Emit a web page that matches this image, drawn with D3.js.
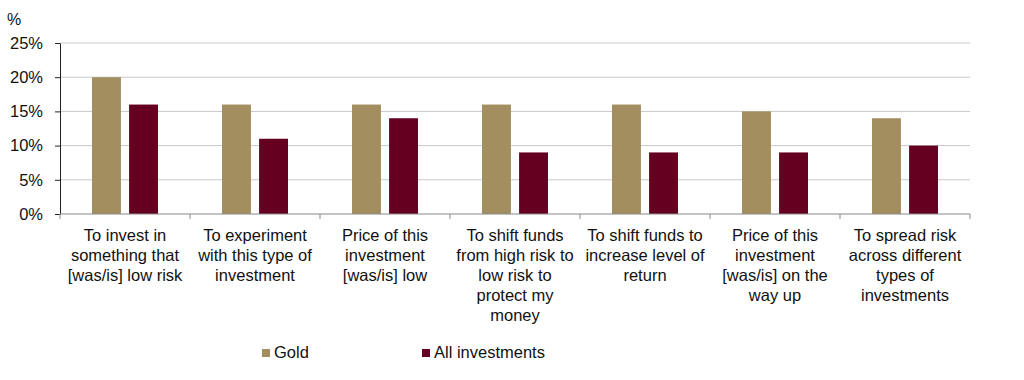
<!DOCTYPE html>
<html>
<head>
<meta charset="utf-8">
<script src="https://d3js.org/d3.v7.min.js"></script>
<style>
  body { margin: 0; background: #fff; }
  text { font-family: "Liberation Sans", Arial, sans-serif; fill: #111; }
</style>
</head>
<body>
<div id="chart"></div>
<script>
// categories (wrapped lines as in the reference)
const categories = [
  ["To invest in", "something that", "[was/is] low risk"],
  ["To experiment", "with this type of", "investment"],
  ["Price of this", "investment", "[was/is] low"],
  ["To shift funds", "from high risk to", "low risk to", "protect my", "money"],
  ["To shift funds to", "increase level of", "return"],
  ["Price of this", "investment", "[was/is] on the", "way up"],
  ["To spread risk", "across different", "types of", "investments"]
];
const seriesNames = ["Gold", "All investments"];
const gold = [20, 16, 16, 16, 16, 15, 14];
const allInvestments = [16, 11, 14, 9, 9, 9, 10];
const yTicks = [0, 5, 10, 15, 20, 25];
const colors = ["#A28E5E", "#660020"];

const width = 1024, height = 380;
const margin = { left: 60, right: 54, top: 43, bottom: 166 };
const plotW = width - margin.left - margin.right;
const plotH = height - margin.top - margin.bottom;

const svg = d3.select('#chart').append('svg')
  .attr('width', width)
  .attr('height', height);

const idx = d3.range(categories.length);
const x = d3.scaleBand().domain(idx).range([0, plotW]).paddingInner(0).paddingOuter(0);
const x1 = d3.scaleBand().domain([0, 1]).range([32, x.bandwidth() - 32]).paddingInner(0.22);
const y = d3.scaleLinear().domain([0, 25]).range([plotH, 0]);

const g = svg.append('g').attr('transform', `translate(${margin.left},${margin.top})`);

// gridlines
g.selectAll('.grid').data(yTicks.filter(d => d > 0)).enter()
  .append('line')
  .attr('x1', 0).attr('x2', plotW)
  .attr('y1', d => y(d)).attr('y2', d => y(d))
  .attr('stroke', '#c8c8c8').attr('stroke-width', 1);

// bars
const series = [gold, allInvestments];
series.forEach((vals, s) => {
  g.selectAll('.bar' + s).data(vals).enter()
    .append('rect')
    .attr('x', (d, i) => x(i) + x1(s))
    .attr('width', x1.bandwidth())
    .attr('y', d => y(d))
    .attr('height', d => plotH - y(d))
    .attr('fill', colors[s]);
});

// y axis
const yAxis = d3.axisLeft(y).tickValues(yTicks).tickFormat(d => d + '%').tickSize(5).tickSizeOuter(0);
const ya = g.append('g').call(yAxis);
ya.select('.domain').attr('stroke', '#222');
ya.selectAll('.tick line').attr('stroke', '#222');
ya.selectAll('.tick text').attr('x', -17).style('font-size', '16.5px').attr('fill', '#111');

// x axis line and ticks at band edges
g.append('line').attr('x1', 0).attr('x2', plotW).attr('y1', plotH).attr('y2', plotH).attr('stroke', '#888');
g.selectAll('.xtick').data(d3.range(categories.length + 1)).enter()
  .append('line')
  .attr('x1', d => d * x.bandwidth()).attr('x2', d => d * x.bandwidth())
  .attr('y1', plotH).attr('y2', plotH + 5)
  .attr('stroke', '#888');

// category labels
const lbl = g.selectAll('.lbl').data(categories).enter()
  .append('text')
  .attr('text-anchor', 'middle')
  .attr('transform', (d, i) => `translate(${x(i) + x.bandwidth() / 2},${plotH + 27})`)
  .style('font-size', '16.5px');
lbl.selectAll('tspan').data(d => d).enter()
  .append('tspan')
  .attr('x', 0)
  .attr('dy', (d, i) => i === 0 ? 0 : 20)
  .text(d => d);

// "%" unit
svg.append('text').attr('x', 7).attr('y', 25).style('font-size', '16px').text('%');

// legend
const legendX = [262, 422];
seriesNames.forEach((name, s) => {
  svg.append('rect').attr('x', legendX[s]).attr('y', 349).attr('width', 8).attr('height', 8).attr('fill', colors[s]);
  svg.append('text').attr('x', legendX[s] + 12).attr('y', 358).style('font-size', '16.5px').text(name);
});
</script>
</body>
</html>
